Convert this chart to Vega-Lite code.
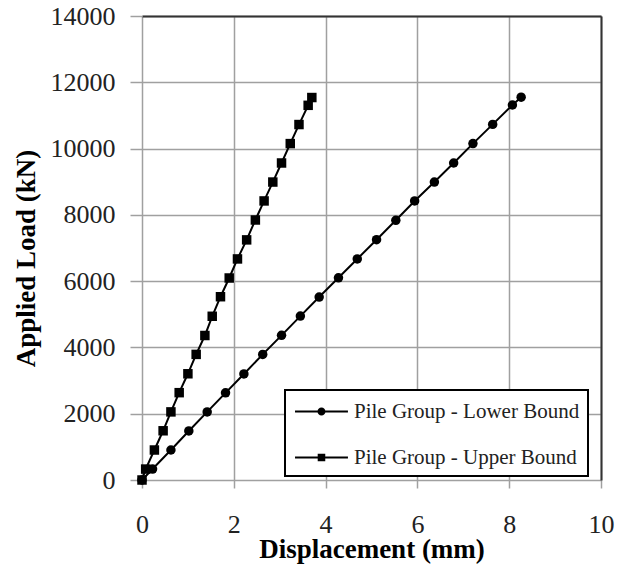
{
  "$schema": "https://vega.github.io/schema/vega-lite/v6.json",
  "width": 459,
  "height": 464,
  "autosize": "none",
  "padding": {"left": 142, "top": 16, "right": 28, "bottom": 88},
  "background": "white",
  "config": {
    "font": "Liberation Serif",
    "view": {"stroke": null},
    "axis": {
      "labelFont": "Liberation Serif",
      "labelFontSize": 26,
      "labelColor": "#222222",
      "labelFlush": false,
      "titleFont": "Liberation Serif",
      "titleFontSize": 27,
      "titleFontWeight": "bold",
      "titleColor": "black",
      "gridColor": "#a0a0a0",
      "gridWidth": 1.5,
      "tickColor": "#a0a0a0",
      "tickWidth": 1.5,
      "domain": false
    },
    "legend": {"labelFont": "Liberation Serif", "strokeWidth": 2}
  },
  "data": {
    "values": [
      {"series": "Pile Group - Lower Bound", "disp": 0, "load": 0},
      {"series": "Pile Group - Lower Bound", "disp": 0.23, "load": 330},
      {"series": "Pile Group - Lower Bound", "disp": 0.63, "load": 905},
      {"series": "Pile Group - Lower Bound", "disp": 1.02, "load": 1480},
      {"series": "Pile Group - Lower Bound", "disp": 1.42, "load": 2055},
      {"series": "Pile Group - Lower Bound", "disp": 1.82, "load": 2630},
      {"series": "Pile Group - Lower Bound", "disp": 2.22, "load": 3200},
      {"series": "Pile Group - Lower Bound", "disp": 2.63, "load": 3790},
      {"series": "Pile Group - Lower Bound", "disp": 3.04, "load": 4365},
      {"series": "Pile Group - Lower Bound", "disp": 3.45, "load": 4945},
      {"series": "Pile Group - Lower Bound", "disp": 3.86, "load": 5520},
      {"series": "Pile Group - Lower Bound", "disp": 4.28, "load": 6100},
      {"series": "Pile Group - Lower Bound", "disp": 4.69, "load": 6670},
      {"series": "Pile Group - Lower Bound", "disp": 5.11, "load": 7250},
      {"series": "Pile Group - Lower Bound", "disp": 5.53, "load": 7835},
      {"series": "Pile Group - Lower Bound", "disp": 5.94, "load": 8420},
      {"series": "Pile Group - Lower Bound", "disp": 6.37, "load": 8990},
      {"series": "Pile Group - Lower Bound", "disp": 6.79, "load": 9565},
      {"series": "Pile Group - Lower Bound", "disp": 7.21, "load": 10150},
      {"series": "Pile Group - Lower Bound", "disp": 7.64, "load": 10730},
      {"series": "Pile Group - Lower Bound", "disp": 8.07, "load": 11315},
      {"series": "Pile Group - Lower Bound", "disp": 8.26, "load": 11550},
      {"series": "Pile Group - Upper Bound", "disp": 0, "load": 0},
      {"series": "Pile Group - Upper Bound", "disp": 0.08, "load": 330},
      {"series": "Pile Group - Upper Bound", "disp": 0.27, "load": 905},
      {"series": "Pile Group - Upper Bound", "disp": 0.46, "load": 1485},
      {"series": "Pile Group - Upper Bound", "disp": 0.63, "load": 2055},
      {"series": "Pile Group - Upper Bound", "disp": 0.81, "load": 2635},
      {"series": "Pile Group - Upper Bound", "disp": 1.0, "load": 3205},
      {"series": "Pile Group - Upper Bound", "disp": 1.18, "load": 3790},
      {"series": "Pile Group - Upper Bound", "disp": 1.37, "load": 4360},
      {"series": "Pile Group - Upper Bound", "disp": 1.53, "load": 4940},
      {"series": "Pile Group - Upper Bound", "disp": 1.71, "load": 5530},
      {"series": "Pile Group - Upper Bound", "disp": 1.9, "load": 6095},
      {"series": "Pile Group - Upper Bound", "disp": 2.08, "load": 6670},
      {"series": "Pile Group - Upper Bound", "disp": 2.28, "load": 7245},
      {"series": "Pile Group - Upper Bound", "disp": 2.47, "load": 7845},
      {"series": "Pile Group - Upper Bound", "disp": 2.66, "load": 8420},
      {"series": "Pile Group - Upper Bound", "disp": 2.85, "load": 8990},
      {"series": "Pile Group - Upper Bound", "disp": 3.04, "load": 9565},
      {"series": "Pile Group - Upper Bound", "disp": 3.23, "load": 10150},
      {"series": "Pile Group - Upper Bound", "disp": 3.42, "load": 10725},
      {"series": "Pile Group - Upper Bound", "disp": 3.62, "load": 11305},
      {"series": "Pile Group - Upper Bound", "disp": 3.7, "load": 11540}
    ]
  },
  "resolve": {"axis": {"x": "independent", "y": "independent"}, "scale": {"shape": "independent"}},
  "layer": [
    {
      "mark": {"type": "line", "color": "black", "strokeWidth": 2},
      "encoding": {
        "x": {
          "field": "disp",
          "type": "quantitative",
          "scale": {"domain": [0, 10], "nice": false, "zero": false},
          "axis": {
            "title": "Displacement (mm)",
            "values": [0, 2, 4, 6, 8, 10],
            "labelFont": "Liberation Serif",
            "labelFlush": false,
            "tickSize": 8,
            "labelBaseline": "alphabetic",
            "labelPadding": 44,
            "titleBaseline": "alphabetic",
            "titleY": 77
          }
        },
        "y": {
          "field": "load",
          "type": "quantitative",
          "scale": {"domain": [0, 14000], "nice": false},
          "axis": {
            "title": "Applied Load (kN)",
            "values": [0, 2000, 4000, 6000, 8000, 10000, 12000, 14000],
            "format": "d",
            "labelFont": "Liberation Serif",
            "tickSize": 12,
            "labelPadding": 15,
            "titleBaseline": "alphabetic",
            "titleAlign": "center",
            "titleX": -108,
            "titleY": 242
          }
        },
        "detail": {"field": "series", "type": "nominal"}
      }
    },
    {
      "mark": {"type": "point", "filled": true, "color": "black", "opacity": 1, "size": 90},
      "encoding": {
        "x": {
          "field": "disp",
          "type": "quantitative",
          "axis": {"orient": "top", "domain": true, "domainColor": "#333333", "domainWidth": 2, "labels": false, "ticks": false, "grid": false, "title": null}
        },
        "y": {
          "field": "load",
          "type": "quantitative",
          "axis": {"orient": "right", "domain": true, "domainColor": "#333333", "domainWidth": 2, "labels": false, "ticks": false, "grid": false, "title": null}
        },
        "shape": {
          "field": "series",
          "type": "nominal",
          "scale": {"domain": ["Pile Group - Lower Bound", "Pile Group - Upper Bound"], "range": ["circle", "square"]},
          "legend": null
        }
      }
    },
    {
      "mark": {"type": "point", "filled": true, "color": "black", "opacity": 0, "size": 729},
      "encoding": {
        "x": {"field": "disp", "type": "quantitative", "axis": null},
        "y": {"field": "load", "type": "quantitative", "axis": null},
        "shape": {
          "field": "series",
          "type": "nominal",
          "scale": {
            "domain": ["Pile Group - Lower Bound", "Pile Group - Upper Bound"],
            "range": [
              "M-0.85,-0.075H0.82V0.075H-0.85ZM1.4,-0.075H3.07V0.075H1.4ZM1.41,0A0.3,0.3,0,1,1,0.81,0A0.3,0.3,0,1,1,1.41,0Z",
              "M-0.85,-0.075H0.84V0.075H-0.85ZM1.38,-0.075H3.07V0.075H1.38ZM0.83,-0.28H1.39V0.28H0.83Z"
            ]
          },
          "legend": {
            "title": null,
            "orient": "none",
            "legendX": 143,
            "legendY": 374,
            "padding": 8,
            "rowPadding": 22,
            "labelOffset": 34,
            "labelFont": "Liberation Serif",
            "labelFontSize": 21,
            "labelColor": "#222222",
            "labelLimit": 400,
            "strokeColor": "black",
            "fillColor": "white",
            "symbolSize": 729,
            "symbolOpacity": 1,
            "symbolStrokeWidth": 0,
            "symbolFillColor": "black"
          }
        }
      }
    }
  ]
}
